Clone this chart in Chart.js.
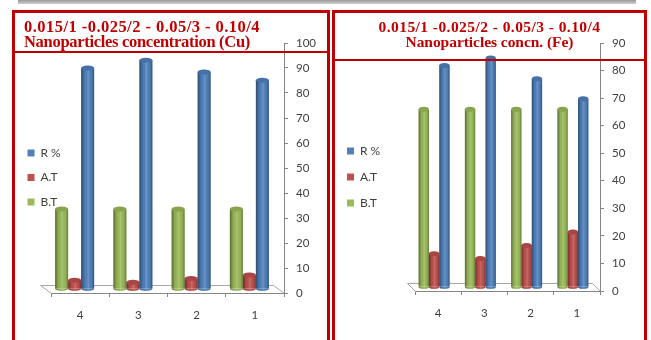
<!DOCTYPE html>
<html>
<head>
<meta charset="utf-8">
<script src="https://cdn.jsdelivr.net/npm/chart.js@4/dist/chart.umd.min.js"></script>
<style>
  html, body { margin: 0; padding: 0; background: #fff; }
  body { width: 651px; height: 340px; position: relative; overflow: hidden; font-family: Lato, sans-serif; }
  .strip { position: absolute; left: 18px; top: 0; width: 618px; height: 4px; background: linear-gradient(#9a9a9a, #cfcfcf); }
  .panel { position: absolute; top: 10px; height: 345px; border: 3px solid #c00000; border-bottom: none; box-sizing: border-box; z-index: 2; pointer-events: none; }
  .rule { position: absolute; left: 0; right: 0; height: 2px; background: #c00000; }
  .title { position: absolute; font-family: "Liberation Serif", serif; font-weight: bold; color: #c00000; white-space: nowrap; }
  .title span { display: inline-block; white-space: nowrap; }
  canvas { position: absolute; z-index: 1; }
</style>
</head>
<body>
<div class="strip"></div>

<canvas id="chartCu" width="311" height="315" style="left:15px;top:25px"></canvas>
<canvas id="chartFe" width="310" height="315" style="left:333px;top:25px"></canvas>

<div class="panel" style="left:12px;width:318px;">
  <div class="title" style="left:9px;top:7px;font-size:16.5px;line-height:14.5px;">
    <span data-w="236">0.015/1 -0.025/2 - 0.05/3 - 0.10/4</span><br>
    <span data-w="226">Nanoparticles concentration (Cu)</span>
  </div>
  <div class="rule" style="top:38px"></div>
</div>
<div class="panel" style="left:332px;width:315px;">
  <div class="title" style="left:0;right:0;top:6px;text-align:center;font-size:15.5px;line-height:15px;">
    <span data-w="222">0.015/1 -0.025/2 - 0.05/3 - 0.10/4</span><br>
    <span data-w="168">Nanoparticles concn. (Fe)</span>
  </div>
  <div class="rule" style="top:46px"></div>
</div>

<script>
// Categories run right-to-left on the axis: 4, 3, 2, 1
const categories = ['4', '3', '2', '1'];

// Series labels and fills
const seriesLabels = ['B.T', 'A.T', 'R %'];
const seriesColors = ['#9bbb59', '#c0504d', '#4f81bd'];

// Copper nanoparticles
const cuBT = [32, 32, 32, 32];
const cuAT = [3.5, 2.7, 4.2, 5.6];
const cuR  = [88.4, 91.5, 86.8, 83.5];

// Iron nanoparticles
const feBT = [64.5, 64.5, 64.5, 64.5];
const feAT = [12.1, 10.3, 15.1, 20.0];
const feR  = [80.4, 83.1, 75.6, 68.3];

// Value axis ranges (tick every 10)
const cuAxis = { min: 0, max: 100, step: 10 };
const feAxis = { min: 0, max: 90, step: 10 };

const axisGrey = '#868686';
const textGrey = '#404040';
const tickFont = { family: 'Lato', size: 11.5 };

// Stretch each title line to its set width with letter spacing
document.querySelectorAll('.title span').forEach(el => {
  const target = +el.dataset.w;
  const w = el.getBoundingClientRect().width;
  const n = el.textContent.length;
  el.style.letterSpacing = ((target - w) / n).toFixed(3) + 'px';
});

// Cylinder look: a floor drawn in depth, bars set back onto it,
// shaded sides, rounded foot and an elliptical lid.
const cylinderPlugin = {
  id: 'cylinders',
  beforeLayout(chart, args, opts) {
    const lg = chart.legend;
    if (lg && !lg.__fixedWidth) {
      const fit = lg.fit;
      lg.fit = function () { fit.call(this); this.width = opts.legendWidth; };
      lg.__fixedWidth = true;
    }
  },
  afterLayout(chart, args, opts) {
    // let the legend text run past its reserved column, and nudge it vertically
    const lg = chart.legend;
    if (!lg) return;
    lg.right = lg.left + opts.legendDrawWidth;
    lg.width = opts.legendDrawWidth;
    lg.top += opts.legendShift;
    lg.bottom += opts.legendShift;
  },
  beforeDatasetsDraw(chart, args, opts) {
    const { ctx, chartArea: a } = chart;
    const bx = opts.dx * 2, by = opts.dy * 2;
    ctx.save();
    ctx.strokeStyle = '#a6a6a6';
    ctx.lineWidth = 1;
    ctx.beginPath();
    ctx.moveTo(a.left + 0.5, a.bottom + 0.5);
    ctx.lineTo(a.left + bx + 0.5, a.bottom + by + 0.5);
    ctx.lineTo(a.right + bx + 0.5, a.bottom + by + 0.5);
    ctx.lineTo(a.right + 0.5, a.bottom + 0.5);
    ctx.stroke();
    ctx.restore();
    ctx.save();
    ctx.translate(opts.dx, opts.dy);
  },
  afterDatasetsDraw(chart, args, opts) {
    const ctx = chart.ctx;
    chart.data.datasets.forEach((ds, di) => {
      const meta = chart.getDatasetMeta(di);
      if (meta.hidden) return;
      meta.data.forEach(bar => {
        const { x, y, base, width } = bar.getProps(['x', 'y', 'base', 'width'], true);
        const l = x - width / 2, ry = 2.5;
        const g = ctx.createLinearGradient(l, 0, l + width, 0);
        g.addColorStop(0, 'rgba(0,0,0,0.42)');
        g.addColorStop(0.28, 'rgba(0,0,0,0.05)');
        g.addColorStop(0.55, 'rgba(255,255,255,0.16)');
        g.addColorStop(0.8, 'rgba(0,0,0,0.04)');
        g.addColorStop(1, 'rgba(0,0,0,0.36)');
        ctx.fillStyle = g;
        ctx.fillRect(l, y, width, base - y);
        // rounded foot
        ctx.beginPath();
        ctx.ellipse(x, base, width / 2, ry, 0, 0, Math.PI);
        ctx.fillStyle = ds.backgroundColor;
        ctx.fill();
        ctx.fillStyle = g;
        ctx.fill();
        // lid
        ctx.beginPath();
        ctx.ellipse(x, y, width / 2, ry, 0, 0, Math.PI * 2);
        ctx.fillStyle = ds.backgroundColor;
        ctx.fill();
        ctx.fillStyle = 'rgba(0,0,0,0.12)';
        ctx.fill();
      });
    });
    ctx.restore();
  }
};

function buildChart(id, bt, at, r, axis, frame) {
  const values = [bt, at, r];
  return new Chart(document.getElementById(id), {
    type: 'bar',
    data: {
      labels: categories,
      datasets: values.map((v, i) => ({
        label: seriesLabels[i],
        data: v,
        backgroundColor: seriesColors[i],
        borderWidth: 0,
        categoryPercentage: 0.67,
        barPercentage: 1,
        clip: false
      }))
    },
    options: {
      responsive: false,
      animation: false,
      events: [],
      layout: { padding: { left: 0, right: 0, top: frame.pt, bottom: frame.pb } },
      scales: {
        x: {
          grid: { display: true, offset: true, drawOnChartArea: false, tickLength: 4, color: axisGrey },
          border: { color: axisGrey },
          ticks: { font: tickFont, color: textGrey, padding: 11 },
          afterFit: s => { s.height = frame.xh; }
        },
        y: {
          position: 'right',
          min: axis.min,
          max: axis.max,
          grid: { drawOnChartArea: false, tickLength: 4, color: axisGrey },
          border: { color: axisGrey },
          ticks: { stepSize: axis.step, font: tickFont, color: textGrey, padding: 8 },
          afterFit: s => { s.width = frame.yw; }
        }
      },
      plugins: {
        legend: {
          position: 'left',
          reverse: true,
          labels: {
            boxWidth: 7,
            boxHeight: 7,
            padding: frame.lp,
            font: { family: 'Lato', size: 12 },
            color: textGrey
          }
        },
        tooltip: { enabled: false },
        cylinders: {
          dx: frame.dx, dy: frame.dy,
          legendWidth: frame.lw, legendDrawWidth: 80, legendShift: frame.ls
        }
      }
    },
    plugins: [cylinderPlugin]
  });
}

buildChart('chartCu', cuBT, cuAT, cuR, cuAxis,
  { pt: 18, pb: 17, xh: 30, yw: 42, lw: 36, lp: 12.5, ls: -5.5, dx: -5.5, dy: -4 });
buildChart('chartFe', feBT, feAT, feR, feAxis,
  { pt: 18, pb: 19, xh: 30, yw: 43, lw: 82, lp: 14, ls: -5, dx: -4, dy: -4 });
</script>
</body>
</html>
